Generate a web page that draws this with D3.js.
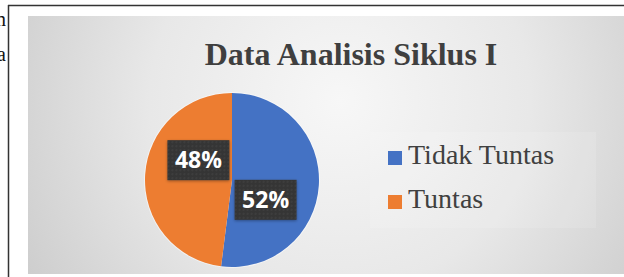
<!DOCTYPE html>
<html>
<head>
<meta charset="utf-8">
<script src="https://cdn.jsdelivr.net/npm/d3@7"></script>
<style>
  body { margin: 0; background: #fff; }
  svg { display: block; }
</style>
</head>
<body>
<div id="chart"></div>
<script>
// chart data
var categories = ["Tidak Tuntas", "Tuntas"];
var values = [52, 48];
var colors = ["#4472c4", "#ed7d31"];
var title = "Data Analisis Siklus I";

var W = 624, H = 277;

var svg = d3.select("#chart")
  .append("svg")
  .attr("width", W)
  .attr("height", H);

var defs = svg.append("defs");

// grey chart background, lighter in the middle
var bg = defs.append("radialGradient")
  .attr("id", "bg")
  .attr("gradientUnits", "userSpaceOnUse")
  .attr("cx", 340).attr("cy", 100).attr("r", 380);
bg.append("stop").attr("offset", "0%").attr("stop-color", "#f7f7f7");
bg.append("stop").attr("offset", "50%").attr("stop-color", "#e8e8e8");
bg.append("stop").attr("offset", "100%").attr("stop-color", "#cacaca");

// dotted dark texture of the data labels
var pat = defs.append("pattern")
  .attr("id", "dots")
  .attr("width", 4).attr("height", 4)
  .attr("patternUnits", "userSpaceOnUse");
pat.append("rect").attr("width", 4).attr("height", 4).attr("fill", "#353535");
pat.append("circle").attr("cx", 2).attr("cy", 2).attr("r", 0.8).attr("fill", "#4a4a4a");

var shadow = defs.append("filter").attr("id", "shadow")
  .attr("x", "-20%").attr("y", "-20%").attr("width", "140%").attr("height", "140%");
shadow.append("feDropShadow")
  .attr("dx", 0).attr("dy", 1).attr("stdDeviation", 1.5)
  .attr("flood-color", "#000").attr("flood-opacity", 0.35);

// page frame lines from the scanned document
svg.append("line")
  .attr("x1", 8).attr("x2", W).attr("y1", 5.5).attr("y2", 5.5)
  .attr("stroke", "#333").attr("stroke-width", 1.5);
svg.append("line")
  .attr("x1", 8.5).attr("x2", 8.5).attr("y1", 5).attr("y2", H)
  .attr("stroke", "#333").attr("stroke-width", 1.5);

// letters of the body text that the scan cut off on the left
svg.append("text")
  .attr("x", 6).attr("y", 26)
  .attr("text-anchor", "end")
  .style("font-family", "Liberation Serif, serif")
  .style("font-size", "20px")
  .attr("fill", "#111")
  .text("m");
svg.append("text")
  .attr("x", 6).attr("y", 61)
  .attr("text-anchor", "end")
  .style("font-family", "Liberation Serif, serif")
  .style("font-size", "20px")
  .attr("fill", "#111")
  .text("a");

// chart area
svg.append("rect")
  .attr("x", 28).attr("y", 16)
  .attr("width", W - 28).attr("height", 258)
  .attr("fill", "url(#bg)");

svg.append("text")
  .attr("x", 351).attr("y", 65)
  .attr("text-anchor", "middle")
  .style("font-family", "Liberation Serif, serif")
  .style("font-weight", "bold")
  .style("font-size", "32px")
  .attr("fill", "#3f3f3f")
  .text(title);

// pie
var cx = 232, cy = 180, r = 87;

var pie = d3.pie().sort(null).value(function(d) { return d; });
var arcs = pie(values);

var arc = d3.arc().innerRadius(0).outerRadius(r);
var labelArc = d3.arc().innerRadius(39).outerRadius(39);

var g = svg.append("g")
  .attr("transform", "translate(" + cx + "," + cy + ")");

g.append("circle")
  .attr("r", r + 1)
  .attr("fill", "#fbfbfb")
  .attr("opacity", 0.6);

g.selectAll("path.slice")
  .data(arcs)
  .enter()
  .append("path")
  .attr("class", "slice")
  .attr("d", arc)
  .attr("fill", function(d, i) { return colors[i]; });

// data labels, turned a bit clockwise like Excel's best fit
var labels = g.selectAll("g.lbl")
  .data(arcs)
  .enter()
  .append("g")
  .attr("class", "lbl")
  .attr("transform", function(d) {
    var c = labelArc.centroid({ startAngle: d.startAngle + 0.47, endAngle: d.endAngle + 0.47 });
    return "translate(" + c[0] + "," + c[1] + ")";
  });

labels.append("rect")
  .attr("x", -31).attr("y", -20)
  .attr("width", 62).attr("height", 40)
  .attr("fill", "url(#dots)")
  .attr("filter", "url(#shadow)");

labels.append("text")
  .attr("text-anchor", "middle")
  .attr("dy", "0.36em")
  .style("font-family", "Open Sans, sans-serif")
  .style("font-weight", "bold")
  .style("font-size", "23px")
  .attr("fill", "#fff")
  .text(function(d) { return d.data + "%"; });

// legend
svg.append("rect")
  .attr("x", 370).attr("y", 132)
  .attr("width", 226).attr("height", 96)
  .attr("fill", "#fff")
  .attr("opacity", 0.12);

var legend = svg.selectAll("g.legend")
  .data(categories)
  .enter()
  .append("g")
  .attr("class", "legend")
  .attr("transform", function(d, i) { return "translate(388," + (151 + i * 44) + ")"; });

legend.append("rect")
  .attr("width", 14).attr("height", 14)
  .attr("fill", function(d, i) { return colors[i]; });

legend.append("text")
  .attr("x", 20).attr("y", 13)
  .style("font-family", "Liberation Serif, serif")
  .style("font-size", "28px")
  .attr("fill", "#404040")
  .text(function(d) { return d; });
</script>
</body>
</html>
